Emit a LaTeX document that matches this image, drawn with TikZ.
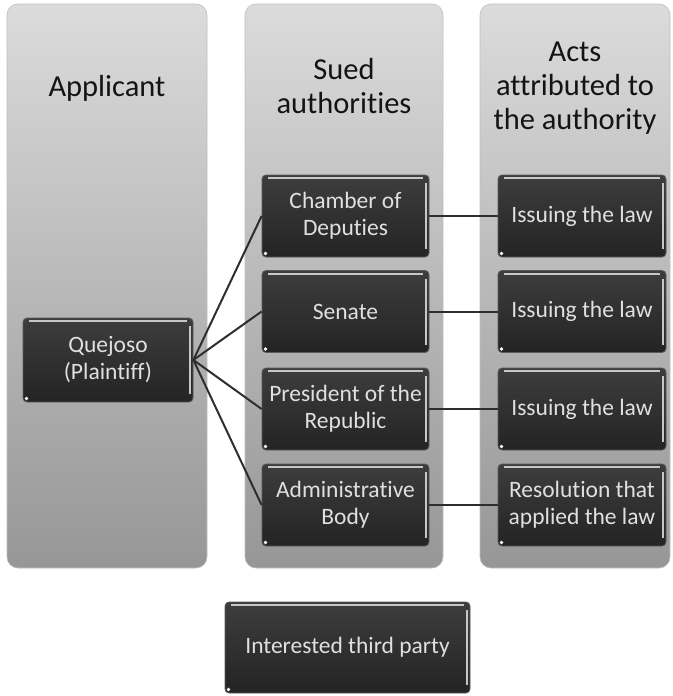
\documentclass[tikz,border=0pt]{standalone}
\usepackage{fontspec}
\setmainfont{Carlito}[Ligatures={NoCommon}]
\begin{document}
\begin{tikzpicture}[x=1pt,y=-1pt,
  colbox/.style={draw=black!25, line width=0.6pt, rounded corners=11pt, top color=black!14, bottom color=black!41},
  header/.style={align=center, text=black!92, font=\fontsize{30.5}{34}\selectfont},
  darkbox/.style={rectangle, rounded corners=4pt, top color=black!76, bottom color=black!86,
    draw=black!65, line width=0.8pt, text=black!12, align=center, inner sep=0pt,
    font=\fontsize{23.5}{27}\selectfont,
    path picture={
      \draw[black!22, line width=2pt] ([xshift=6pt,yshift=-3pt]path picture bounding box.north west) -- ([xshift=-6pt,yshift=-3pt]path picture bounding box.north east);
      \draw[black!22, line width=1.6pt] ([xshift=-3pt,yshift=-8pt]path picture bounding box.north east) -- ([xshift=-3pt,yshift=8pt]path picture bounding box.south east);
      \fill[white] ([xshift=3.5pt,yshift=3.5pt]path picture bounding box.south west) circle (1.8pt);
    }},
  midbox/.style={darkbox, minimum width=167pt, minimum height=82pt},
  actbox/.style={darkbox, minimum width=168pt, minimum height=82pt},
  link/.style={draw=black!82, line width=2pt}
]
\useasboundingbox (0,0) rectangle (672,696);
% columns
\draw[colbox] (7,4) rectangle (207,568);
\draw[colbox] (245,4) rectangle (443,568);
\draw[colbox] (480,4) rectangle (670,568);
% headers
\node[header] (h1) at (107,88) {Applicant};
\node[header] (h2) at (344,86) {Sued\\authorities};
\node[header] (h3) at (575,88) {Acts\\attributed to\\the authority};
% applicant
\node[darkbox, minimum width=170pt, minimum height=84pt] (q) at (108,360) {Quejoso\\(Plaintiff)};
% sued authorities
\node[midbox] (m1) at (345.5,216) {Chamber of\\Deputies};
\node[midbox] (m2) at (345.5,311.5) {Senate};
\node[midbox] (m3) at (345.5,409) {President of the\\Republic};
\node[midbox] (m4) at (345.5,505) {Administrative\\Body};
% acts
\node[actbox] (a1) at (582,216) {Issuing the law};
\node[actbox] (a2) at (582,311.5) {Issuing the law};
\node[actbox] (a3) at (582,409) {Issuing the law};
\node[actbox] (a4) at (582,505) {Resolution that\\applied the law};
% third party
\node[darkbox, minimum width=245pt, minimum height=91pt] (t) at (347.5,647.5) {Interested third party};
% connectors
\foreach \m in {m1,m2,m3,m4} \draw[link] (q.east) -- (\m.west);
\draw[link] (m1.east) -- (a1.west);
\draw[link] (m2.east) -- (a2.west);
\draw[link] (m3.east) -- (a3.west);
\draw[link] (m4.east) -- (a4.west);
\end{tikzpicture}
\end{document}
